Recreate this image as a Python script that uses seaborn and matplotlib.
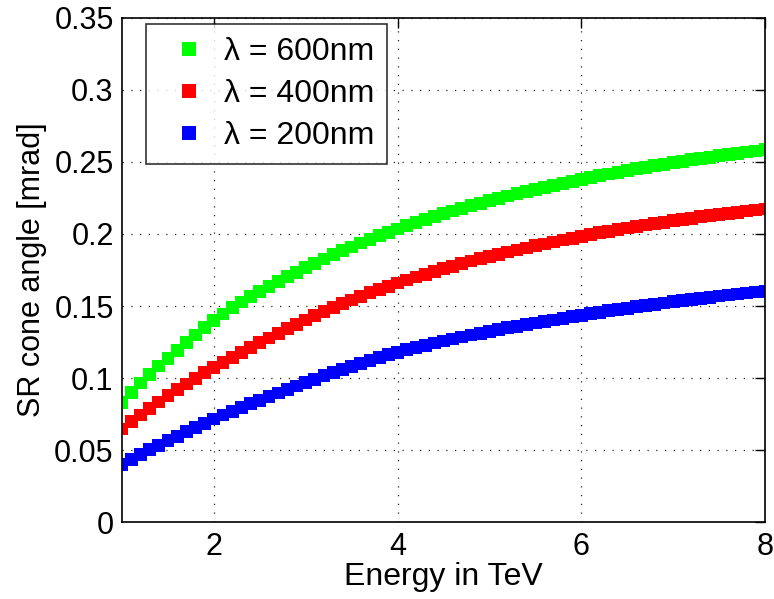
import numpy as np
import pandas as pd
import matplotlib
matplotlib.use("Agg")
import matplotlib.pyplot as plt
import seaborn as sns

# Valores (energia em TeV, ângulo em mrad)
energy = [1.0, 1.1, 1.2, 1.3, 1.4, 1.5, 1.6, 1.7, 1.8, 1.9,
          2.0, 2.1, 2.2, 2.3, 2.4, 2.5, 2.6, 2.7, 2.8, 2.9,
          3.0, 3.1, 3.2, 3.3, 3.4, 3.5, 3.6, 3.7, 3.8, 3.9,
          4.0, 4.1, 4.2, 4.3, 4.4, 4.5, 4.6, 4.7, 4.8, 4.9,
          5.0, 5.1, 5.2, 5.3, 5.4, 5.5, 5.6, 5.7, 5.8, 5.9,
          6.0, 6.1, 6.2, 6.3, 6.4, 6.5, 6.6, 6.7, 6.8, 6.9,
          7.0, 7.1, 7.2, 7.3, 7.4, 7.5, 7.6, 7.7, 7.8, 7.9,
          8.0]

angle_600 = [.0830, .0900, .0965, .1025, .1083, .1138, .1193, .1247, .1299, .1351,
             .1400, .1445, .1488, .1528, .1565, .1600, .1636, .1670, .1703, .1735,
             .1765, .1796, .1826, .1855, .1883, .1910, .1937, .1963, .1988, .2012,
             .2035, .2057, .2079, .2100, .2121, .2140, .2159, .2178, .2196, .2213,
             .2230, .2247, .2264, .2279, .2294, .2310, .2324, .2339, .2353, .2367,
             .2380, .2392, .2405, .2416, .2429, .2440, .2452, .2462, .2474, .2484,
             .2495, .2505, .2515, .2524, .2533, .2543, .2552, .2560, .2569, .2576,
             .2585]

angle_400 = [.0646, .0696, .0743, .0789, .0833, .0876, .0918, .0959, .0998, .1036,
             .1072, .1108, .1143, .1178, .1211, .1244, .1278, .1311, .1343, .1373,
             .1403, .1432, .1461, .1488, .1515, .1542, .1566, .1591, .1615, .1638,
             .1660, .1681, .1701, .1721, .1740, .1759, .1777, .1794, .1812, .1829,
             .1845, .1860, .1875, .1889, .1903, .1918, .1931, .1945, .1958, .1971,
             .1984, .1996, .2008, .2019, .2031, .2042, .2053, .2063, .2073, .2082,
             .2092, .2101, .2110, .2119, .2127, .2136, .2143, .2151, .2159, .2167,
             .2174]

angle_200 = [.0400, .0434, .0468, .0501, .0533, .0565, .0596, .0627, .0657, .0686,
             .0715, .0743, .0770, .0796, .0821, .0846, .0871, .0896, .0921, .0945,
             .0969, .0992, .1015, .1038, .1060, .1081, .1102, .1122, .1142, .1161,
             .1179, .1196, .1213, .1228, .1243, .1257, .1271, .1285, .1298, .1311,
             .1324, .1336, .1348, .1360, .1371, .1382, .1393, .1403, .1414, .1425,
             .1436, .1446, .1456, .1466, .1476, .1485, .1494, .1503, .1512, .1521,
             .1529, .1537, .1545, .1553, .1561, .1569, .1576, .1583, .1590, .1597,
             .1603]

series_labels = ['λ = 600nm', 'λ = 400nm', 'λ = 200nm']
series_colors = ['#00ff00', '#ff0000', '#0000ff']

x_ticks = [2, 4, 6, 8]
y_ticks = [0, 0.05, 0.1, 0.15, 0.2, 0.25, 0.3, 0.35]
y_ticklabels = ['0', '0.05', '0.1', '0.15', '0.2', '0.25', '0.3', '0.35']

sns.set_style("white")
plt.rcParams['font.family'] = ['Liberation Sans', 'DejaVu Sans']
for key in ['text.color', 'axes.labelcolor', 'xtick.color', 'ytick.color']:
    plt.rcParams[key] = 'black'

df = pd.DataFrame({
    'energy': energy * 3,
    'angle': angle_600 + angle_400 + angle_200,
    'serie': [series_labels[0]] * len(energy) + [series_labels[1]] * len(energy)
             + [series_labels[2]] * len(energy),
})

fig = plt.figure(figsize=(7.74, 5.99), dpi=100)
ax = fig.add_axes([0.1576, 0.1285, 0.8308, 0.8415])

sns.scatterplot(data=df, x='energy', y='angle', hue='serie',
                hue_order=series_labels, palette=dict(zip(series_labels, series_colors)),
                marker='s', s=85, linewidth=0, ax=ax)

ax.set_xlim(1, 8)
ax.set_ylim(0, 0.35)
ax.set_xticks(x_ticks)
ax.set_yticks(y_ticks)
ax.set_yticklabels(y_ticklabels)
ax.grid(True, color='#222222', linestyle=(0, (1, 6)), linewidth=0.9)

ax.tick_params(direction='in', length=7, width=1, top=True, right=True,
               labelsize=22, color='black')
ax.tick_params(axis='x', pad=7)
ax.tick_params(axis='y', pad=6)
for sp in ax.spines.values():
    sp.set_linewidth(1.2)
    sp.set_color('black')

ax.set_xlabel('Energy in TeV', fontsize=23, labelpad=0)
ax.set_ylabel('SR cone angle [mrad]', fontsize=22, labelpad=5)

leg = ax.legend(loc='upper left', bbox_to_anchor=(0.037, 0.988), borderaxespad=0,
                fontsize=23, frameon=True, fancybox=False, edgecolor='black',
                markerscale=1.1, handlelength=1.9, handletextpad=0.15,
                borderpad=0.4, labelspacing=0.38)
leg.get_frame().set_linewidth(1.2)

fig.savefig('out.png', dpi=100)
plt.close()
